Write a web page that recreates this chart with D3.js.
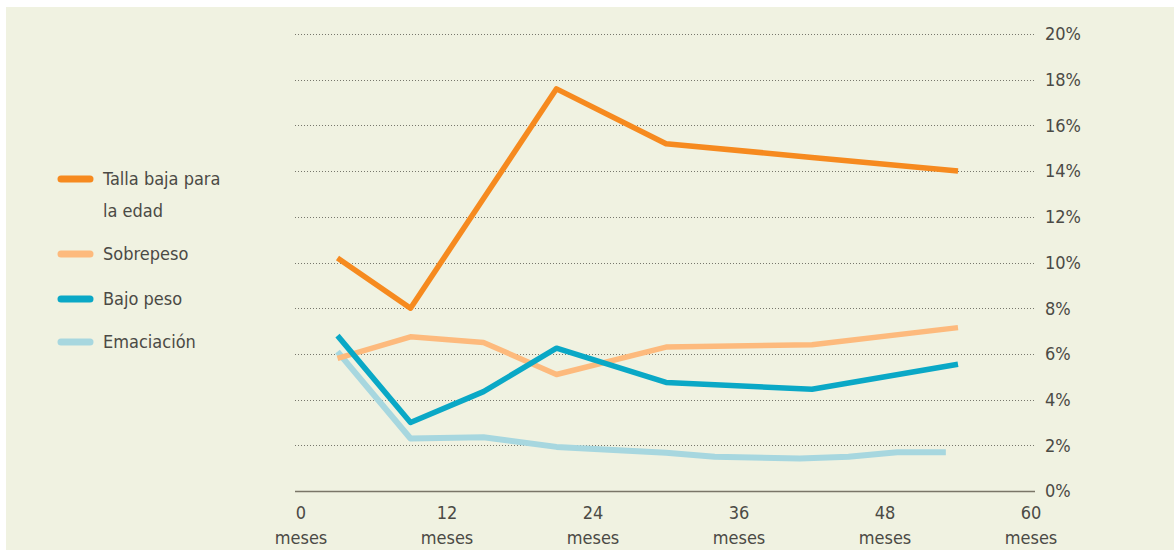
<!DOCTYPE html>
<html>
<head>
<meta charset="utf-8">
<script src="https://cdn.jsdelivr.net/npm/d3@7"></script>
<style>
  body { margin: 0; background: #ffffff; }
  svg { display: block; }
  text { font-family: "Liberation Sans Narrow", "DejaVu Sans Condensed", "Noto Sans", sans-serif; fill: #4b4a45; }
</style>
</head>
<body>
<svg id="chart"></svg>
<script>
// edad en meses (punto medio de cada grupo)
var meses = [3, 9, 15, 21, 30, 42, 54];
var tallaBaja = [10.2, 8.0, 12.8, 17.6, 15.2, 14.6, 14.0];
var sobrepeso = [5.8, 6.75, 6.5, 5.1, 6.3, 6.4, 7.15];
var bajoPeso = [6.8, 3.0, 4.35, 6.25, 4.75, 4.45, 5.55];
// emaciación viene algo más suavizada en el original
var emacMeses = [3, 9, 15, 21, 30, 34, 41, 45, 49, 53];
var emaciacion = [6.1, 2.3, 2.35, 1.93, 1.67, 1.5, 1.42, 1.5, 1.7, 1.7];

var xTicks = [0, 12, 24, 36, 48, 60];
var yTicks = [0, 2, 4, 6, 8, 10, 12, 14, 16, 18, 20];

var series = [
    {name: ["Talla baja para", "la edad"], x: meses, y: tallaBaja, color: "#f68a1f", w: 5.5},
    {name: ["Sobrepeso"], x: meses, y: sobrepeso, color: "#fdba7d", w: 5.5},
    {name: ["Bajo peso"], x: meses, y: bajoPeso, color: "#0aa8c6", w: 5.5},
    {name: ["Emaciación"], x: emacMeses, y: emaciacion, color: "#a7d7df", w: 6}
];

var width = 1174, height = 550;

var svg = d3.select("#chart")
    .attr("width", width)
    .attr("height", height);

svg.append("rect")
    .attr("x", 6).attr("y", 7)
    .attr("width", width - 6).attr("height", height - 7)
    .attr("fill", "#f0f2e1");

// scales
var x = d3.scaleLinear().domain([0, 60]).range([301, 1031]);
var y = d3.scaleLinear().domain([0, 20]).range([491, 34]);

// grid lines (dotted) and right side labels
var grid = svg.append("g");
grid.selectAll("line")
    .data(yTicks.filter(function (d) { return d > 0; }))
    .enter()
    .append("line")
    .attr("x1", 295).attr("x2", 1035)
    .attr("y1", function (d) { return Math.round(y(d)) + 0.5; })
    .attr("y2", function (d) { return Math.round(y(d)) + 0.5; })
    .attr("stroke", "#77776c")
    .attr("stroke-width", 1)
    .attr("stroke-dasharray", "1,2");

svg.append("line")
    .attr("x1", 295).attr("x2", 1035)
    .attr("y1", y(0) + 0.5).attr("y2", y(0) + 0.5)
    .attr("stroke", "#7a7668")
    .attr("stroke-width", 1.6);

svg.append("g").selectAll("text")
    .data(yTicks)
    .enter()
    .append("text")
    .attr("x", 1045)
    .attr("y", function (d) { return y(d); })
    .attr("dy", "0.35em")
    .style("font-size", "18px")
    .text(function (d) { return d + "%"; });

// x labels
var xl = svg.append("g").selectAll("g")
    .data(xTicks)
    .enter()
    .append("g")
    .attr("transform", function (d) { return "translate(" + x(d) + ",0)"; });
xl.append("text")
    .attr("y", 513).attr("dy", "0.35em")
    .style("text-anchor", "middle")
    .style("font-size", "18px")
    .text(function (d) { return d; });
xl.append("text")
    .attr("y", 538).attr("dy", "0.35em")
    .style("text-anchor", "middle")
    .style("font-size", "18px")
    .text("meses");

// lines
var line = d3.line()
    .x(function (d) { return x(d[0]); })
    .y(function (d) { return y(d[1]); });

// draw order: emaciación at the back, talla on top
[3, 1, 2, 0].forEach(function (i) {
    var s = series[i];
    var pts = s.x.map(function (m, k) { return [m, s.y[k]]; });
    svg.append("path")
        .datum(pts)
        .attr("d", line)
        .attr("fill", "none")
        .attr("stroke", s.color)
        .attr("stroke-width", s.w)
        .attr("stroke-linejoin", "round")
        .attr("stroke-linecap", "butt");
});

// legend
var legendY = [179, 254, 299, 342];
var lg = svg.append("g").selectAll("g")
    .data(series)
    .enter()
    .append("g")
    .attr("transform", function (d, i) { return "translate(0," + legendY[i] + ")"; });
lg.append("line")
    .attr("x1", 61).attr("x2", 90)
    .attr("y1", 0).attr("y2", 0)
    .attr("stroke", function (d) { return d.color; })
    .attr("stroke-width", 7)
    .attr("stroke-linecap", "round");
lg.each(function (d) {
    var g = d3.select(this);
    d.name.forEach(function (t, k) {
        g.append("text")
            .attr("x", 103)
            .attr("y", k * 32)
            .attr("dy", "0.35em")
            .style("font-size", "18px")
            .text(t);
    });
});
</script>
</body>
</html>
